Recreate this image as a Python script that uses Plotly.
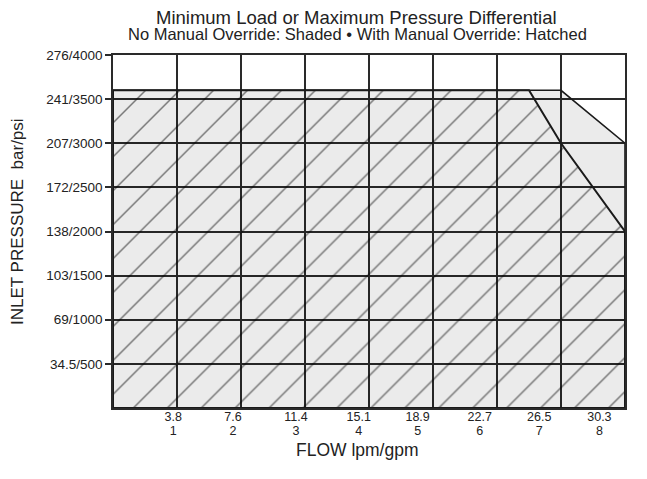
import plotly.graph_objects as go

# ---- data ----
flow_gpm = [1, 2, 3, 4, 5, 6, 7, 8]
flow_lpm = ["3.8", "7.6", "11.4", "15.1", "18.9", "22.7", "26.5", "30.3"]
label_pos_gpm = [0.94, 1.875, 2.86, 3.84, 4.76, 5.73, 6.66, 7.6]  # where the source prints the flow labels

pressure_psi = [500, 1000, 1500, 2000, 2500, 3000, 3500, 4000]
pressure_labels = ["34.5/500", "69/1000", "103/1500", "138/2000",
                   "172/2500", "207/3000", "241/3500", "276/4000"]

# No manual override (shaded) envelope
shaded_flow = [0, 7, 8, 8, 0, 0]
shaded_psi = [3600, 3600, 3000, 0, 0, 3600]

# With manual override (hatched) envelope
hatched_flow = [0, 6.5, 7, 8, 8, 0, 0]
hatched_psi = [3600, 3600, 3000, 2000, 0, 0, 3600]

FONT = "Liberation Sans, Arial, sans-serif"
GRID = "#2a2a2a"
TXT = "#222222"

fig = go.Figure()
fig.add_trace(go.Scatter(
    x=shaded_flow, y=shaded_psi, mode="lines", fill="toself",
    fillcolor="rgba(0,0,0,0.08)", line=dict(color="#1a1a1a", width=1.6),
    hoverinfo="skip", showlegend=False))
fig.add_trace(go.Scatter(
    x=hatched_flow, y=hatched_psi, mode="lines", fill="toself",
    fillcolor="rgba(0,0,0,0)",
    fillpattern=dict(shape="/", size=24, solidity=0.06,
                     fgcolor="#000000", bgcolor="rgba(0,0,0,0)"),
    line=dict(color="#1a1a1a", width=2),
    hoverinfo="skip", showlegend=False))
# invisible carrier so the second (gpm label) axis is drawn
fig.add_trace(go.Scatter(x=[None], y=[None], xaxis="x2", yaxis="y",
                         mode="markers", hoverinfo="skip", showlegend=False))

fig.update_layout(
    width=647, height=479,
    margin=dict(l=105, r=30, t=47, b=79),
    paper_bgcolor="white", plot_bgcolor="white",
    font=dict(family=FONT, color=TXT),
    xaxis=dict(range=[0, 8], tickmode="array", tickvals=label_pos_gpm,
               ticktext=flow_lpm,
               showgrid=False, zeroline=False, ticks="", ticklen=0,
               ticklabelstandoff=-4,
               tickfont=dict(size=12.5, family=FONT, color=TXT),
               showline=True, mirror=True, linecolor=GRID, linewidth=1.5,
               minor=dict(tickmode="array", tickvals=flow_gpm, showgrid=True,
                          gridcolor=GRID, gridwidth=1.5, ticks=""),
               fixedrange=True),
    xaxis2=dict(range=[0, 8], overlaying="x", side="bottom", anchor="y",
                tickmode="array", tickvals=label_pos_gpm, ticktext=flow_gpm,
                showgrid=False, zeroline=False, ticks="", ticklen=0,
                ticklabelstandoff=13,
                tickfont=dict(size=12.5, family=FONT, color=TXT),
                showline=False, fixedrange=True),
    yaxis=dict(range=[0, 4000], tickmode="array", tickvals=pressure_psi,
               ticktext=pressure_labels, showgrid=True, gridcolor=GRID,
               gridwidth=1.5, zeroline=False, ticks="outside", ticklen=6,
               tickcolor=GRID, tickwidth=1.5,
               tickfont=dict(size=13.5, family=FONT, color=TXT),
               showline=True, mirror=True, linecolor=GRID, linewidth=1.5,
               fixedrange=True),
)

fig.add_annotation(text="Minimum Load or Maximum Pressure Differential",
                   xref="paper", yref="paper", x=0.475, y=1.106,
                   showarrow=False, font=dict(size=18.5, family=FONT, color=TXT),
                   xanchor="center", yanchor="middle")
fig.add_annotation(text="No Manual Override: Shaded \u2022 With Manual Override: Hatched",
                   xref="paper", yref="paper", x=0.477, y=1.059,
                   showarrow=False, font=dict(size=16.5, family=FONT, color=TXT),
                   xanchor="center", yanchor="middle")
fig.add_annotation(text="FLOW lpm/gpm", xref="paper", yref="paper",
                   x=0.477, y=-0.119, showarrow=False,
                   font=dict(size=17.5, family=FONT, color=TXT),
                   xanchor="center", yanchor="middle")
fig.add_annotation(text="INLET PRESSURE  bar/psi", xref="paper", yref="paper",
                   x=-0.1855, y=0.527, showarrow=False, textangle=-90,
                   font=dict(size=17, family=FONT, color=TXT),
                   xanchor="center", yanchor="middle")

fig.write_html("out.html")
